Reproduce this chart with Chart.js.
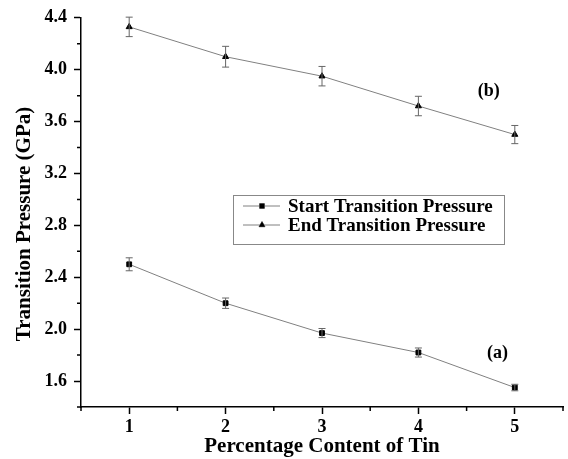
<!DOCTYPE html>
<html>
<head>
<meta charset="utf-8">
<script src="https://cdn.jsdelivr.net/npm/chart.js@4.4.0/dist/chart.umd.min.js"></script>
<style>
  html, body { margin: 0; padding: 0; background: #fff; }
  #wrap { width: 568px; height: 459px; }
</style>
</head>
<body>
<div id="wrap"><canvas id="chart"></canvas></div>
<script>
const tinContent = [1, 2, 3, 4, 5];
const startPressure = [2.50, 2.20, 1.97, 1.82, 1.55];
const startError = [0.05, 0.04, 0.035, 0.035, 0.025];
const endPressure = [4.33, 4.10, 3.95, 3.72, 3.50];
const endError = [0.075, 0.08, 0.075, 0.075, 0.07];
const yTickLabels = [1.6, 2.0, 2.4, 2.8, 3.2, 3.6, 4.0, 4.4];
const xTickLabels = [1, 2, 3, 4, 5];
const seriesNames = ["Start Transition Pressure", "End Transition Pressure"];
const curveLabels = [
  { text: "(a)", x: 4.82, y: 1.81 },
  { text: "(b)", x: 4.73, y: 3.83 }
];

const FONT = "'Liberation Serif', 'Times New Roman', serif";
const isMajor = (v, list) => list.some((t) => Math.abs(t - v) < 1e-6);

// error bars, minor ticks, legend box, (a)/(b) and the y title
const extras = {
  id: "extras",
  afterDatasetsDraw(chart) {
    const { ctx, scales: { x, y } } = chart;
    ctx.save();
    ctx.strokeStyle = "#666";
    ctx.lineWidth = 1;
    [[startPressure, startError], [endPressure, endError]].forEach(([vals, errs]) => {
      vals.forEach((v, i) => {
        const px = x.getPixelForValue(tinContent[i]);
        const top = y.getPixelForValue(v + errs[i]);
        const bot = y.getPixelForValue(v - errs[i]);
        ctx.beginPath();
        ctx.moveTo(px, top); ctx.lineTo(px, bot);
        ctx.moveTo(px - 3.5, top); ctx.lineTo(px + 3.5, top);
        ctx.moveTo(px - 3.5, bot); ctx.lineTo(px + 3.5, bot);
        ctx.stroke();
      });
    });
    ctx.restore();
  },
  afterDraw(chart) {
    const { ctx, chartArea, scales: { x, y } } = chart;
    ctx.save();
    // minor ticks
    ctx.strokeStyle = "#000";
    ctx.lineWidth = 1.5;
    ctx.beginPath();
    y.ticks.forEach((t) => {
      if (isMajor(t.value, yTickLabels)) return;
      const py = y.getPixelForValue(t.value);
      ctx.moveTo(chartArea.left - 4, py); ctx.lineTo(chartArea.left, py);
    });
    x.ticks.forEach((t) => {
      if (isMajor(t.value, xTickLabels)) return;
      const px = x.getPixelForValue(t.value);
      ctx.moveTo(px, chartArea.bottom); ctx.lineTo(px, chartArea.bottom + 4);
    });
    ctx.stroke();

    // legend
    const lx = 233, ly = 195, lw = 271, lh = 49;
    ctx.strokeStyle = "#888";
    ctx.lineWidth = 1;
    ctx.strokeRect(lx + 0.5, ly + 0.5, lw, lh);
    chart.data.datasets.forEach((ds, i) => {
      const cy = ly + 11 + i * 19;
      ctx.strokeStyle = ds.borderColor;
      ctx.beginPath();
      ctx.moveTo(lx + 10, cy); ctx.lineTo(lx + 47, cy);
      ctx.stroke();
      Chart.helpers.drawPoint(ctx, {
        pointStyle: ds.pointStyle, radius: ds.pointRadius, borderWidth: 1
      }, lx + 29, cy);
      ctx.fillStyle = "#000";
      ctx.fill();
      ctx.font = "bold 19px " + FONT;
      ctx.textBaseline = "middle";
      ctx.textAlign = "left";
      ctx.fillText(ds.label, lx + 55, cy + 1);
    });

    // curve labels
    ctx.font = "bold 18px " + FONT;
    ctx.textAlign = "center";
    ctx.fillStyle = "#000";
    curveLabels.forEach((c) => {
      ctx.fillText(c.text, x.getPixelForValue(c.x), y.getPixelForValue(c.y));
    });

    // y title
    ctx.translate(25, 224);
    ctx.rotate(-Math.PI / 2);
    ctx.font = "bold 21px " + FONT;
    ctx.fillText("Transition Pressure (GPa)", 0, 0);
    ctx.restore();
  }
};

new Chart(document.getElementById("chart"), {
  type: "line",
  data: {
    datasets: [
      {
        label: seriesNames[0],
        data: tinContent.map((t, i) => ({ x: t, y: startPressure[i] })),
        borderColor: "#808080",
        borderWidth: 1,
        pointStyle: "rect",
        pointRadius: 3.4,
        pointBackgroundColor: "#000",
        pointBorderColor: "#000",
        pointBorderWidth: 1
      },
      {
        label: seriesNames[1],
        data: tinContent.map((t, i) => ({ x: t, y: endPressure[i] })),
        borderColor: "#808080",
        borderWidth: 1,
        pointStyle: "triangle",
        pointRadius: 3.5,
        pointBackgroundColor: "#000",
        pointBorderColor: "#000",
        pointBorderWidth: 1
      }
    ]
  },
  options: {
    responsive: true,
    maintainAspectRatio: false,
    animation: false,
    layout: { padding: { top: 15, right: 5, left: 0, bottom: 0 } },
    plugins: { legend: { display: false }, tooltip: { enabled: false } },
    scales: {
      x: {
        type: "linear",
        min: 0.5,
        max: 5.5,
        afterFit: (s) => { s.height = 52; },
        ticks: {
          stepSize: 0.5,
          padding: 3,
          maxRotation: 0,
          autoSkip: false,
          color: "#000",
          font: { family: FONT, size: 18, weight: "bold" },
          callback: (v) => (isMajor(v, xTickLabels) ? String(v) : "")
        },
        grid: {
          drawOnChartArea: false,
          tickLength: 7,
          tickWidth: 1.5,
          color: (c) => (c.tick && isMajor(c.tick.value, xTickLabels) ? "#000" : "rgba(0,0,0,0)")
        },
        border: { color: "#000", width: 1.5 },
        title: {
          display: true,
          text: "Percentage Content of Tin",
          color: "#000",
          padding: { top: 0, bottom: 0 },
          font: { family: FONT, size: 21, weight: "bold" }
        }
      },
      y: {
        min: 1.4,
        max: 4.4,
        afterFit: (s) => { s.width = 81; },
        ticks: {
          stepSize: 0.2,
          padding: 7,
          autoSkip: false,
          color: "#000",
          font: { family: FONT, size: 18, weight: "bold" },
          callback: (v) => (isMajor(v, yTickLabels) ? v.toFixed(1) : "")
        },
        grid: {
          drawOnChartArea: false,
          tickLength: 7,
          tickWidth: 1.5,
          color: (c) => (c.tick && isMajor(c.tick.value, yTickLabels) ? "#000" : "rgba(0,0,0,0)")
        },
        border: { color: "#000", width: 1.5 }
      }
    }
  },
  plugins: [extras]
});
</script>
</body>
</html>
